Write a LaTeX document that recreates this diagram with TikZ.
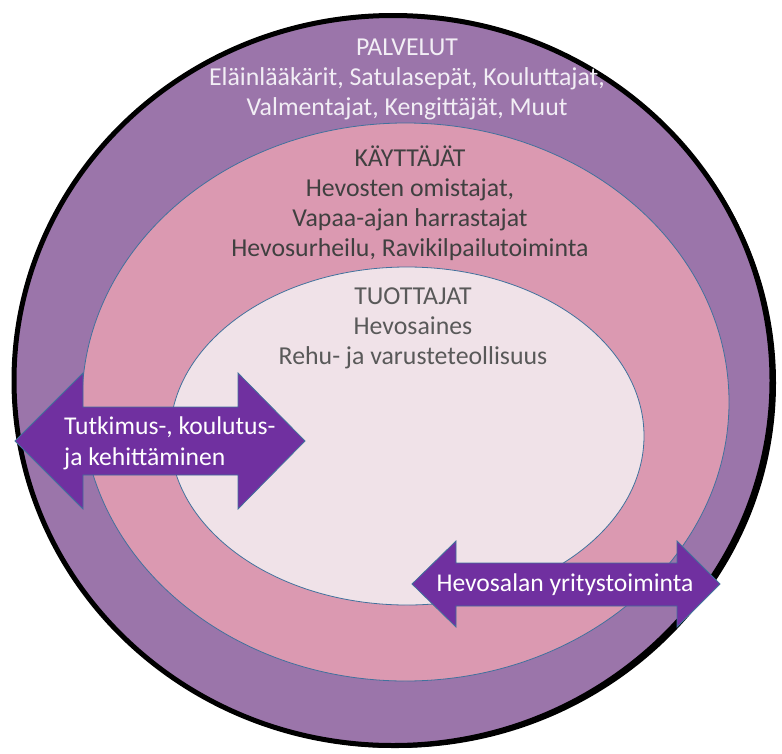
\documentclass[tikz,border=0pt]{standalone}
\usepackage{fontspec}
\setmainfont{Carlito}
\definecolor{outerfill}{HTML}{9B75AA}
\definecolor{midfill}{HTML}{DB99B1}
\definecolor{innerfill}{HTML}{F0E2E8}
\definecolor{rimline}{HTML}{41719C}
\definecolor{arrowfill}{HTML}{7030A0}
\definecolor{lighttext}{HTML}{F2EEF5}
\definecolor{darktext}{HTML}{404040}
\definecolor{greytext}{HTML}{595959}
\tikzset{
  ring/.style={draw=rimline, line width=0.8pt},
  bigarrow/.style={fill=arrowfill, draw=rimline, line width=0.8pt, line join=miter},
  lbl/.style={align=center, inner sep=0pt, font=\fontsize{25.8}{30}\selectfont},
  arrowlbl/.style={inner sep=0pt, text=white, font=\fontsize{25.6}{31}\selectfont}
}
\begin{document}
\begin{tikzpicture}[x=1pt, y=-1pt]
\useasboundingbox (0,0) rectangle (782,753);
% outer disc with shadow
\fill[black] (397,383) ellipse [x radius=379pt, y radius=365pt];
\draw[fill=outerfill, draw=black, line width=5pt] (393,380.5) ellipse [x radius=379pt, y radius=365pt];
% middle and inner
\draw[ring, fill=midfill] (405.5,402) ellipse [x radius=323.5pt, y radius=279pt];
\draw[ring, fill=innerfill] (407,436) ellipse [x radius=237pt, y radius=169pt];
% arrows
\draw[bigarrow] (15,441) -- (83,373) -- (83,407) -- (238,407) -- (238,373) -- (305,441)
  -- (238,509) -- (238,475) -- (83,475) -- (83,509) -- cycle;
\draw[bigarrow] (412,584) -- (456,541) -- (456,563) -- (677,563) -- (677,541) -- (720,584)
  -- (677,627) -- (677,606) -- (456,606) -- (456,627) -- cycle;
% texts
\node[lbl, text=lighttext] (palvelut) at (407,79) {PALVELUT\\Eläinlääkärit, Satulasepät, Kouluttajat,\\Valmentajat, Kengittäjät, Muut};
\node[lbl, text=darktext] (kayttajat) at (410,203) {KÄYTTÄJÄT\\Hevosten omistajat,\\Vapaa-ajan harrastajat\\Hevosurheilu, Ravikilpailutoiminta};
\node[lbl, text=greytext] (tuottajat) at (413,328) {TUOTTAJAT\\Hevosaines\\Rehu- ja varusteteollisuus};
\node[arrowlbl, anchor=west, align=left] (tutkimus) at (64,443) {Tutkimus-, koulutus-\\ja kehittäminen};
\node[arrowlbl] (yritys) at (565,585) {Hevosalan yritystoiminta};
\end{tikzpicture}
\end{document}
